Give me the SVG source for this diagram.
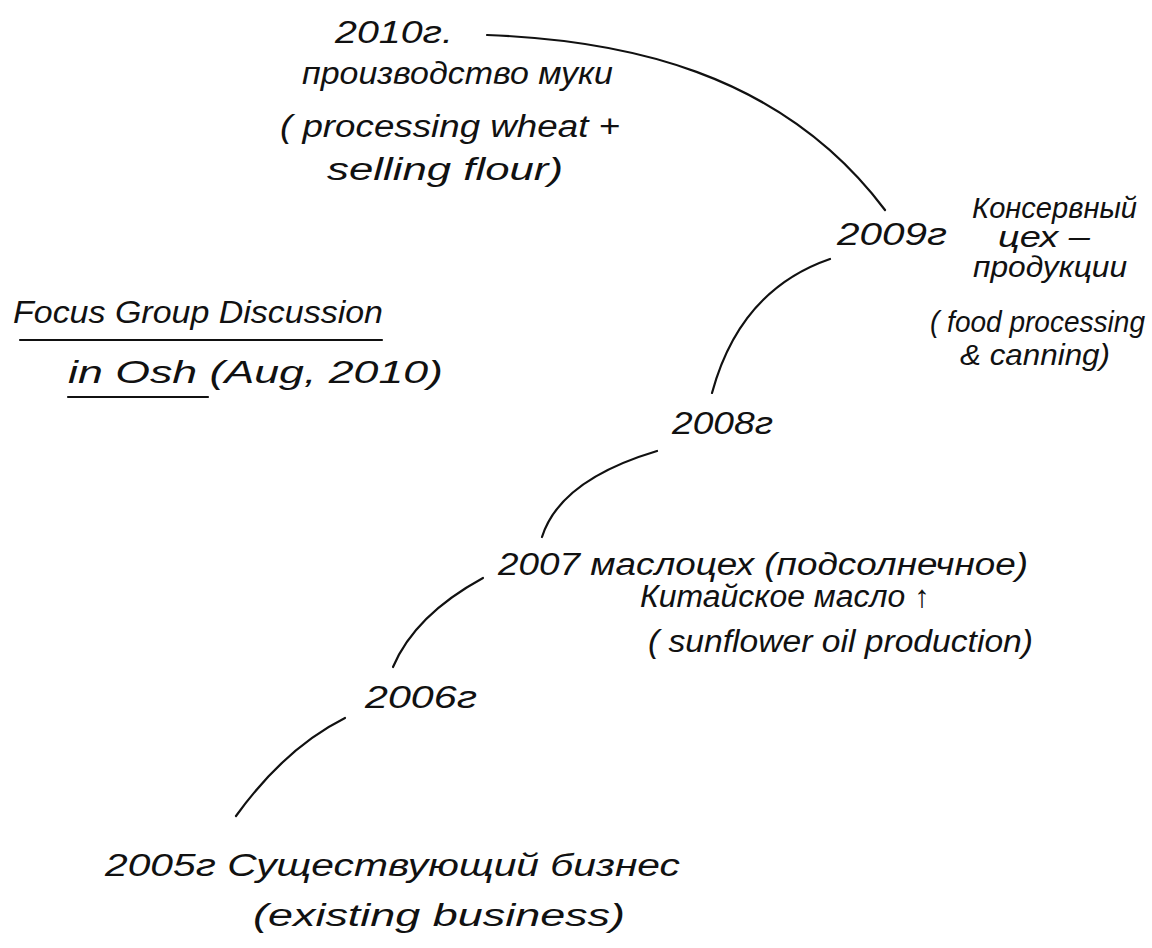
<svg xmlns="http://www.w3.org/2000/svg" width="1152" height="948" viewBox="0 0 1152 948">
<style>
.t{font-family:"Liberation Sans",Arial,sans-serif;font-style:italic;font-size:31px;fill:#111}
.s{font-size:29px}
.c{fill:none;stroke:#111;stroke-width:2.2;stroke-linecap:round}
</style>
<rect width="1152" height="948" fill="#fff"/>
<g id="connectors">
<path class="c" d="M487,35 C620,40 780,70 885,210"/>
<path class="c" d="M830,259 Q740,290 712,393"/>
<path class="c" d="M657,451 Q560,480 542,537"/>
<path class="c" d="M483,578 Q415,615 393,667"/>
<path class="c" d="M345,718 Q285,748 236,816"/>
</g>
<g id="title">
<text class="t" x="13" y="323" textLength="370" lengthAdjust="spacingAndGlyphs">Focus Group Discussion</text>
<text class="t" x="68" y="383" textLength="375" lengthAdjust="spacingAndGlyphs">in Osh (Aug, 2010)</text>
<path class="c" d="M20,340 L382,340"/>
<path class="c" d="M68,397 L208,397"/>
</g>
<g id="node-2010">
<text class="t" x="335" y="43" textLength="118" lengthAdjust="spacingAndGlyphs">2010г.</text>
<text class="t" x="302" y="84" textLength="311" lengthAdjust="spacingAndGlyphs">производство муки</text>
<text class="t" x="280" y="137" textLength="340" lengthAdjust="spacingAndGlyphs">( processing wheat +</text>
<text class="t" x="327" y="180" textLength="236" lengthAdjust="spacingAndGlyphs">selling flour)</text>
</g>
<g id="node-2009">
<text class="t" x="837" y="245" textLength="110" lengthAdjust="spacingAndGlyphs">2009г</text>
<text class="t s" x="972" y="218" textLength="165" lengthAdjust="spacingAndGlyphs">Консервный</text>
<text class="t s" x="998" y="247" textLength="92" lengthAdjust="spacingAndGlyphs">цех –</text>
<text class="t s" x="973" y="277" textLength="154" lengthAdjust="spacingAndGlyphs">продукции</text>
<text class="t s" x="930" y="332" textLength="215" lengthAdjust="spacingAndGlyphs">( food processing</text>
<text class="t s" x="960" y="365" textLength="150" lengthAdjust="spacingAndGlyphs">&amp; canning)</text>
</g>
<g id="node-2008">
<text class="t" x="672" y="434" textLength="101" lengthAdjust="spacingAndGlyphs">2008г</text>
</g>
<g id="node-2007">
<text class="t" x="498" y="575" textLength="530" lengthAdjust="spacingAndGlyphs">2007 маслоцех (подсолнечное)</text>
<text class="t" x="640" y="607" textLength="290" lengthAdjust="spacingAndGlyphs">Китайское масло ↑</text>
<text class="t" x="648" y="652" textLength="385" lengthAdjust="spacingAndGlyphs">( sunflower oil production)</text>
</g>
<g id="node-2006">
<text class="t" x="365" y="708" textLength="112" lengthAdjust="spacingAndGlyphs">2006г</text>
</g>
<g id="node-2005">
<text class="t" x="105" y="876" textLength="575" lengthAdjust="spacingAndGlyphs">2005г Существующий бизнес</text>
<text class="t" x="253" y="926" textLength="372" lengthAdjust="spacingAndGlyphs">(existing business)</text>
</g>
</svg>
